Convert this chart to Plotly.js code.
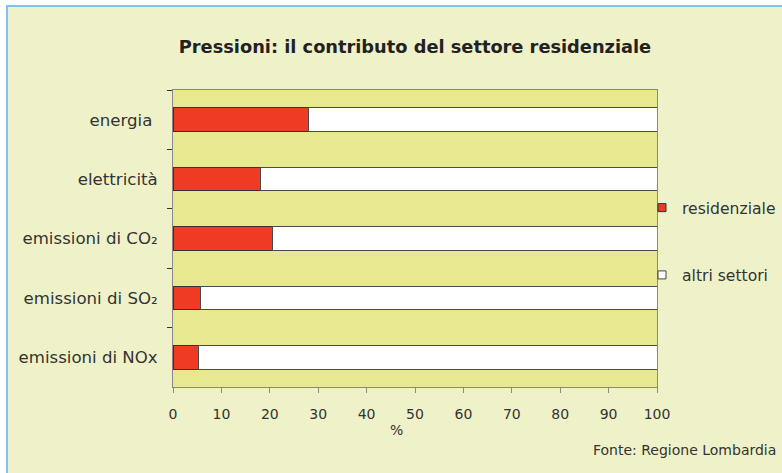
<!DOCTYPE html>
<html>
<head>
<meta charset="utf-8">
<script src="https://cdn.plot.ly/plotly-3.0.1.min.js"></script>
<style>
  html, body { margin: 0; padding: 0; background: #ffffff; width: 782px; height: 473px; overflow: hidden; }
  #frame { position: absolute; left: 6px; top: 5px; width: 776px; height: 468px;
           border-left: 2px solid #7cc3ee; border-top: 2px solid #7cc3ee; background: #eff2c9; }
  #chart { position: absolute; left: 0; top: 0; width: 774px; height: 466px; }
</style>
</head>
<body>
<div id="frame"><div id="chart"></div></div>
<script>
// Data (percent share)
const categories = ['energia ', 'elettricità', 'emissioni di CO\u2082', 'emissioni di SO\u2082', 'emissioni di NOx'];
const residenziale = [28, 18, 20.5, 5.7, 5.3];
const altriSettori = [72, 82, 79.5, 94.3, 94.7];
const seriesNames = ['residenziale', 'altri settori'];
const xTicks = [0, 10, 20, 30, 40, 50, 60, 70, 80, 90, 100];

const FONT = 'DejaVu Sans, Arial, sans-serif';
const RED = '#ef3b23';
const OUTLINE = '#333333';

const traces = [
  {
    type: 'bar', orientation: 'h', name: seriesNames[0],
    y: categories, x: residenziale, showlegend: false,
    marker: { color: RED, line: { color: OUTLINE, width: 1 } },
    hoverinfo: 'x+y'
  },
  {
    type: 'bar', orientation: 'h', name: seriesNames[1],
    y: categories, x: altriSettori, showlegend: false,
    marker: { color: '#ffffff', line: { color: '#4a4a4a', width: 1 } },
    hoverinfo: 'x+y'
  },
  // legend-only entries (small square keys)
  {
    type: 'scatter', mode: 'markers', name: seriesNames[0],
    x: [null], y: [null], legendgroup: 'a',
    marker: { symbol: 'square', size: 8, color: RED, line: { color: OUTLINE, width: 1 } }
  },
  {
    type: 'scatter', mode: 'markers', name: seriesNames[1],
    x: [null], y: [null], legendgroup: 'b',
    marker: { symbol: 'square', size: 8, color: '#ffffff', line: { color: '#444', width: 1 } }
  }
];

const layout = {
  width: 774, height: 466,
  margin: { l: 165, r: 125, t: 83, b: 86, pad: 0, autoexpand: false },
  paper_bgcolor: '#eff2c9',
  plot_bgcolor: '#e7e88f',
  barmode: 'stack',
  bargap: 0.6,
  font: { family: FONT, color: '#333333', size: 15 },
  title: {
    text: '<b>Pressioni: il contributo del settore residenziale</b>',
    font: { family: FONT, size: 17.8, color: '#222222' },
    x: 0.5, xref: 'paper', xanchor: 'center',
    y: 1 - 40 / 466, yref: 'container', yanchor: 'middle'
  },
  xaxis: {
    range: [0, 100], tickvals: xTicks, ticks: 'outside', ticklen: 5, tickcolor: '#888888',
    showline: true, linecolor: '#888888', linewidth: 1, mirror: true,
    showgrid: false, zeroline: false, fixedrange: true,
    tickfont: { family: FONT, size: 14, color: '#333333' },
    ticklabelstandoff: 9
  },
  yaxis: {
    type: 'category', autorange: 'reversed',
    ticks: 'outside', tickson: 'boundaries', ticklen: 5, tickcolor: '#333333',
    showline: true, linecolor: '#888888', linewidth: 1, mirror: true,
    showgrid: false, zeroline: false, fixedrange: true,
    tickfont: { family: FONT, size: 16.6, color: '#333333' },
    ticklabelstandoff: 11
  },
  showlegend: true,
  legend: {
    x: (634 - 165) / 484, xanchor: 'left',
    y: 1 - (184 - 83) / 297, yanchor: 'top',
    bgcolor: 'rgba(0,0,0,0)', borderwidth: 0,
    font: { family: FONT, size: 15.6, color: '#333333' },
    traceorder: 'grouped', tracegroupgap: 44,
    itemclick: false, itemdoubleclick: false
  },
  annotations: [
    {
      text: '%', xref: 'paper', yref: 'paper',
      x: (388 - 165) / 484, y: -43 / 297, xanchor: 'center', yanchor: 'middle',
      showarrow: false, font: { family: FONT, size: 14, color: '#333333' }
    },
    {
      text: 'Fonte: Regione Lombardia', xref: 'paper', yref: 'paper',
      x: (583 - 165) / 484, y: -63 / 297, xanchor: 'left', yanchor: 'middle',
      showarrow: false, font: { family: FONT, size: 14, color: '#333333' }
    }
  ]
};

Plotly.newPlot('chart', traces, layout, { displayModeBar: false, staticPlot: false, responsive: false });
</script>
</body>
</html>
